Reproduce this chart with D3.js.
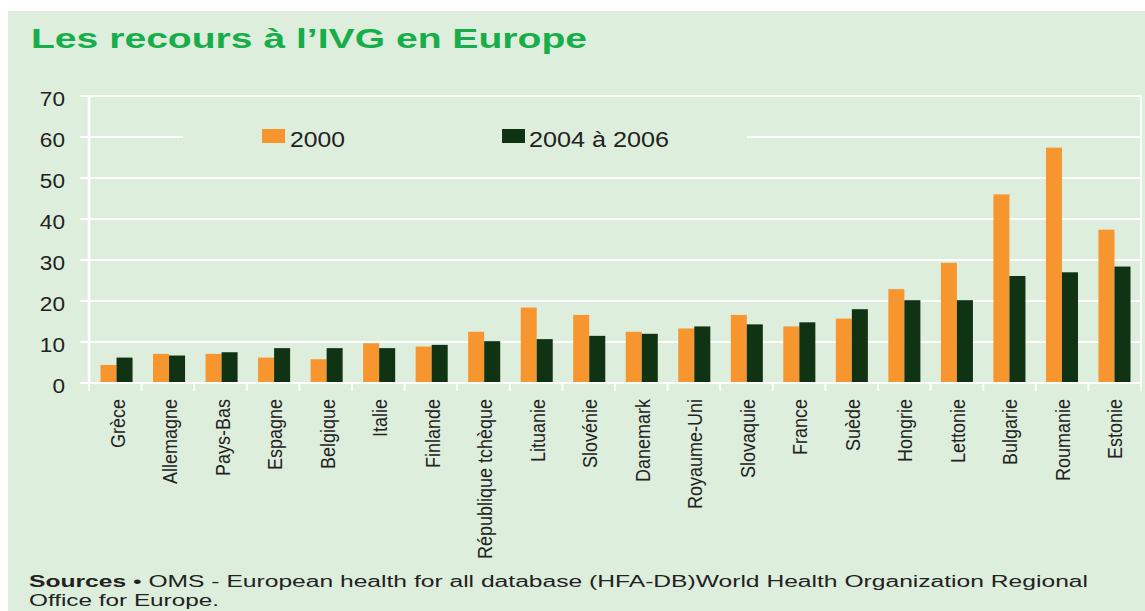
<!DOCTYPE html>
<html>
<head>
<meta charset="utf-8">
<script src="https://cdn.jsdelivr.net/npm/d3@7"></script>
<style>
  html, body { margin: 0; padding: 0; background: #ffffff; }
  svg { display: block; }
  text { font-family: "Liberation Sans", Arial, sans-serif; }
</style>
</head>
<body>
<svg id="chart" width="1145" height="611"></svg>
<script>
const categories = ["Grèce","Allemagne","Pays-Bas","Espagne","Belgique","Italie","Finlande","République tchèque","Lituanie","Slovénie","Danemark","Royaume-Uni","Slovaquie","France","Suède","Hongrie","Lettonie","Bulgarie","Roumanie","Estonie"];
const values2000 = [4.4,7.1,7.1,6.2,5.8,9.7,8.9,12.5,18.4,16.6,12.5,13.3,16.6,13.8,15.7,22.9,29.3,46.0,57.4,37.4];
const values2004 = [6.2,6.7,7.5,8.5,8.5,8.5,9.3,10.2,10.7,11.5,12.0,13.8,14.3,14.8,18.0,20.2,20.2,26.1,27.0,28.4];
const seriesNames = ["2000","2004 à 2006"];
const seriesColors = ["#f7962f","#0f3313"];
const yTicks = [0,10,20,30,40,50,60,70];
const titleText = "Les recours à l\u2019IVG en Europe";
const sourceBold = "Sources";
const sourceLine1 = " \u2022 OMS - European health for all database (HFA-DB)World Health Organization Regional";
const sourceLine2 = "Office for Europe.";

(function () {
const svg = d3.select("#chart");
const bg = "#deeedc";

function stretch(sel, k) {
  sel.each(function () {
    const w = this.getComputedTextLength();
    this.setAttribute("textLength", w * k);
    this.setAttribute("lengthAdjust", "spacingAndGlyphs");
  });
}

// background panel
svg.append("rect").attr("x", 8).attr("y", 11).attr("width", 1137).attr("height", 600).attr("fill", bg);

// title
svg.append("text")
  .attr("x", 31).attr("y", 48)
  .attr("font-family", "'DejaVu Sans', Verdana, sans-serif")
  .attr("font-weight", "bold").attr("font-size", 27)
  .attr("fill", "#17ad4a")
  .attr("textLength", 556).attr("lengthAdjust", "spacingAndGlyphs")
  .text(titleText);

const pLeft = 90, pRight = 1141, pTop = 96, pBottom = 383;

const x = d3.scaleBand().domain(categories).range([pLeft, pRight]).paddingInner(0.39).paddingOuter(0.2);
const xs = d3.scaleBand().domain(seriesNames).range([0, x.bandwidth()]);
const y = d3.scaleLinear().domain([0, 70]).range([pBottom, pTop]);

// gridlines
svg.append("g").selectAll("line").data(yTicks).join("line")
  .attr("x1", 80).attr("x2", pRight)
  .attr("y1", d => y(d)).attr("y2", d => y(d))
  .attr("stroke", "#ffffff").attr("stroke-width", 2);

// y axis line & right border
svg.append("line").attr("x1", 89).attr("x2", 89).attr("y1", pTop).attr("y2", pBottom + 1).attr("stroke", "#fff").attr("stroke-width", 2.5);
svg.append("line").attr("x1", pRight).attr("x2", pRight).attr("y1", pTop).attr("y2", pBottom).attr("stroke", "#fff").attr("stroke-width", 2);

// y tick labels
const yl = svg.append("g").selectAll("text").data(yTicks).join("text")
  .attr("x", 65).attr("y", d => y(d) + 10)
  .attr("text-anchor", "end").attr("font-size", 20).attr("fill", "#222")
  .text(d => d);
stretch(yl, 1.13);

// legend background (covers gridline)
svg.append("rect").attr("x", 183).attr("y", 118).attr("width", 564).attr("height", 40).attr("fill", bg);

// bars
const groups = svg.append("g").selectAll("g").data(categories).join("g")
  .attr("transform", d => `translate(${x(d)},0)`);
groups.selectAll("rect").data((d, i) => [
    { s: seriesNames[0], v: values2000[i] },
    { s: seriesNames[1], v: values2004[i] }
  ]).join("rect")
  .attr("x", d => xs(d.s)).attr("width", xs.bandwidth())
  .attr("y", d => y(d.v)).attr("height", d => y(0) - y(d.v))
  .attr("fill", (d, i) => seriesColors[i]);

// x axis line and ticks
svg.append("line").attr("x1", 89).attr("x2", pRight).attr("y1", pBottom).attr("y2", pBottom).attr("stroke", "#fff").attr("stroke-width", 2);
const tickPos = d3.range(categories.length + 1).map(i => pLeft - 1 + i * (pRight - pLeft + 1) / categories.length);
svg.append("g").selectAll("line").data(tickPos).join("line")
  .attr("x1", d => d).attr("x2", d => d).attr("y1", pBottom).attr("y2", pBottom + 8)
  .attr("stroke", "#fff").attr("stroke-width", 2);

// x labels
svg.append("g").selectAll("text").data(categories).join("text")
  .attr("transform", d => `translate(${x(d) + x.bandwidth() / 2 + 8},399) scale(1.1,1) rotate(-90)`)
  .attr("text-anchor", "end").attr("font-size", 18).attr("fill", "#222")
  .text(d => d);

// legend
const legendItems = [
  { name: seriesNames[0], color: seriesColors[0], sx: 262, tx: 290, w: 55 },
  { name: seriesNames[1], color: seriesColors[1], sx: 502, tx: 529, w: 140 }
];
legendItems.forEach(it => {
  svg.append("rect").attr("x", it.sx).attr("y", 129).attr("width", 23).attr("height", 14).attr("fill", it.color);
  svg.append("text").attr("x", it.tx).attr("y", 147).attr("font-size", 22).attr("fill", "#222")
    .attr("textLength", it.w).attr("lengthAdjust", "spacingAndGlyphs")
    .text(it.name);
});

// source
const src = svg.append("text").attr("x", 29).attr("y", 587).attr("font-size", 16).attr("fill", "#222")
  .attr("textLength", 1059).attr("lengthAdjust", "spacingAndGlyphs");
src.append("tspan").attr("font-weight", "bold").text(sourceBold);
src.append("tspan").text(sourceLine1);
svg.append("text").attr("x", 29).attr("y", 606).attr("font-size", 16).attr("fill", "#222")
  .attr("textLength", 190).attr("lengthAdjust", "spacingAndGlyphs")
  .text(sourceLine2);
})();
</script>
</body>
</html>
